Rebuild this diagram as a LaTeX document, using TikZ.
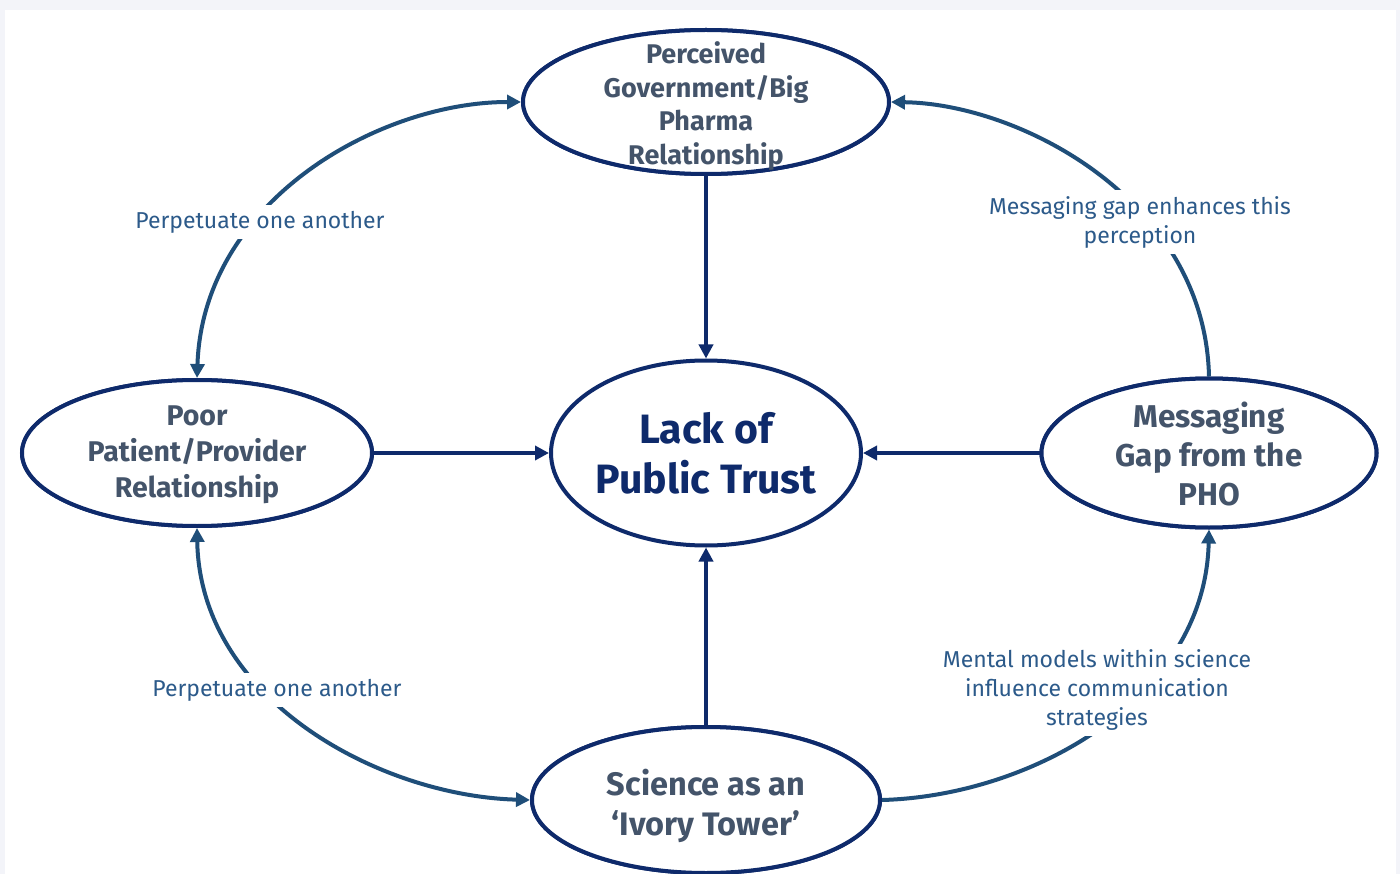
\documentclass[tikz,border=0pt]{standalone}
\usepackage{fontspec}
\setmainfont{Fira Sans}
\usetikzlibrary{shapes.geometric,arrows.meta}
\definecolor{pagebg}{HTML}{F3F4F9}
\definecolor{navy}{HTML}{0E2A6B}
\definecolor{linkblue}{HTML}{1F4E79}
\definecolor{nodegrey}{HTML}{44546A}
\definecolor{labelblue}{HTML}{2C5A8A}
\tikzset{
  oval/.style={ellipse, draw=navy, line width=4pt, fill=white, inner sep=0pt},
  ovaltext/.style={text=nodegrey, align=center, inner sep=0pt},
  maintext/.style={text=navy, font=\bfseries\fontsize{41}{50}\selectfont, align=center, inner sep=0pt},
  feed/.style={draw=navy, line width=3.5pt, -{Triangle[length=14pt,width=14pt]}},
  cycle/.style={draw=linkblue, line width=4pt},
  tip/.tip={Triangle[length=14pt,width=14pt]},
  linklabel/.style={text=labelblue, fill=white, font=\fontsize{23}{29}\selectfont, align=center, inner sep=6pt},
}
\begin{document}
\begin{tikzpicture}[x=1pt,y=-1pt]
  % page frame
  \fill[pagebg] (0,0) rectangle (1400,874);
  \fill[white] (5,10) rectangle (1396,874);
  \useasboundingbox (0,0) rectangle (1400,874);

  % outer nodes
  \node[oval, minimum width=366pt, minimum height=144pt] (gov) at (706,102) {};
  \node[oval, minimum width=350pt, minimum height=146pt] (poor) at (197,453) {};
  \node[oval, minimum width=335pt, minimum height=149pt] (gap) at (1209,453) {};
  \node[oval, minimum width=348pt, minimum height=146pt] (ivory) at (706,800) {};
  \node[oval, minimum width=310pt, minimum height=185pt] (trust) at (706,453) {};

  % cycle connectors between outer nodes
  \draw[cycle, tip-tip] (poor.north) .. controls (203,200) and (380,102) .. (gov.west);
  \draw[cycle, -tip] (gap.north) .. controls (1205,200) and (1020,104) .. (gov.east);
  \draw[cycle, tip-tip] (poor.south) .. controls (200,700) and (380,796) .. (ivory.west);
  \draw[cycle, -tip] (ivory.east) .. controls (1030,796) and (1205,700) .. (gap.south);

  % redraw outer nodes over the curve ends
  \node[oval, minimum width=366pt, minimum height=144pt] at (gov) {};
  \node[oval, minimum width=350pt, minimum height=146pt] at (poor) {};
  \node[oval, minimum width=335pt, minimum height=149pt] at (gap) {};
  \node[oval, minimum width=348pt, minimum height=146pt] at (ivory) {};

  % node texts
  \node[ovaltext, font=\bfseries\fontsize{27}{33.5}\selectfont] (govt) at (706,106)
    {Perceived\\Government/Big\\Pharma\\Relationship};
  \node[ovaltext, font=\bfseries\fontsize{28.5}{36}\selectfont] (poort) at (197,455)
    {Poor\\Patient/Provider\\Relationship};
  \node[ovaltext, font=\bfseries\fontsize{31.5}{39}\selectfont] (gapt) at (1209,454)
    {Messaging\\Gap from the\\PHO};
  \node[ovaltext, font=\bfseries\fontsize{32.5}{40}\selectfont] (ivoryt) at (706,806)
    {Science as an\\‘Ivory Tower’};
  \node[maintext] (trustt) at (706,453) {Lack of\\Public Trust};

  % direct influences on public trust
  \draw[feed] (gov) -- (trust);
  \draw[feed] (poor) -- (trust);
  \draw[feed] (gap) -- (trust);
  \draw[feed] (ivory) -- (trust);

  % connector labels
  \node[linklabel] (l1) at (260,222) {Perpetuate one another};
  \node[linklabel] (l2) at (1140,222) {Messaging gap enhances this\\perception};
  \node[linklabel] (l3) at (277,690) {Perpetuate one another};
  \node[linklabel] (l4) at (1097,690) {Mental models within science\\influence communication\\strategies};
\end{tikzpicture}
\end{document}
